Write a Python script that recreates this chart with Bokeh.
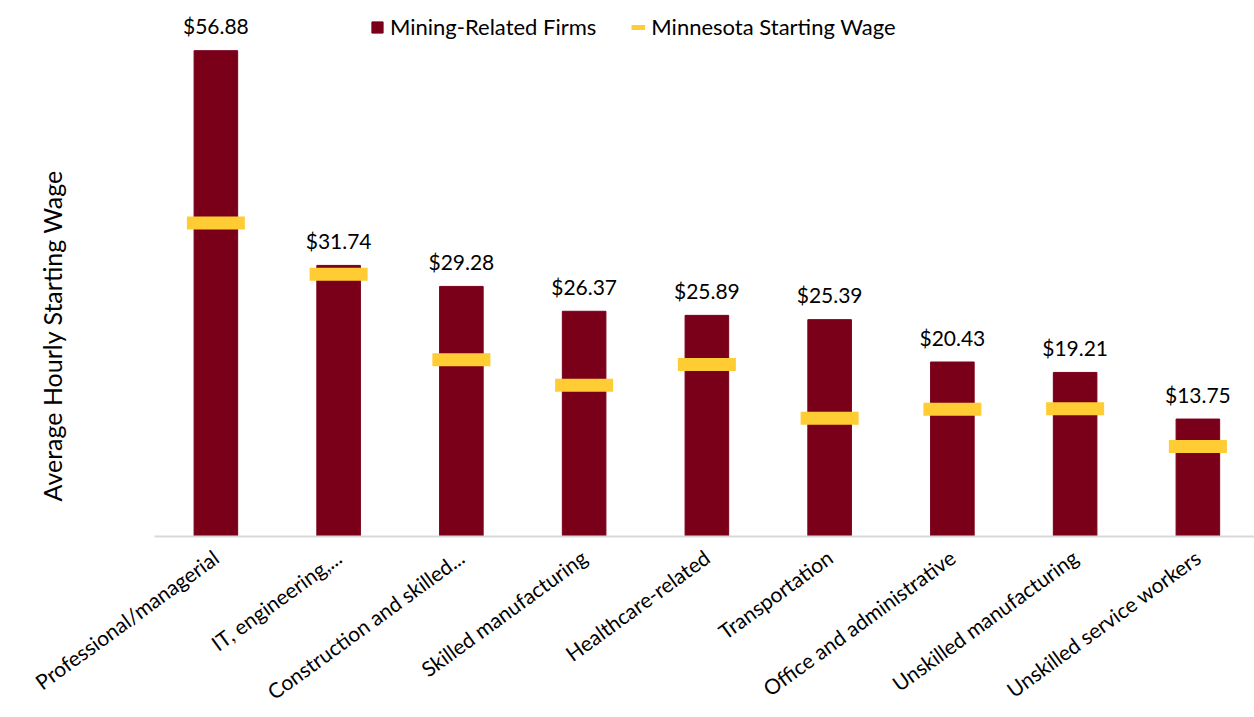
import math
from bokeh.plotting import figure
from bokeh.models import Range1d, FixedTicker, Legend, LegendItem, Title
from bokeh.core.properties import value
from bokeh.embed import file_html
from bokeh.resources import INLINE

categories = ["Professional/managerial", "IT, engineering,...", "Construction and skilled...",
              "Skilled manufacturing", "Healthcare-related", "Transportation",
              "Office and administrative", "Unskilled manufacturing", "Unskilled service workers"]
mining_wages = [56.88, 31.74, 29.28, 26.37, 25.89, 25.39, 20.43, 19.21, 13.75]
mn_wages = [36.70, 30.70, 20.70, 17.70, 20.15, 13.85, 14.90, 14.95, 10.55]
value_labels = [f"${v:.2f}" for v in mining_wages]

MAROON = "#7A0019"
GOLD = "#FFCC33"
FONT = "Lato"

xs = list(range(len(categories)))

W, H = 1254, 717
FRAME_L = 154
FRAME_H = 537
p = figure(width=W, height=H, output_backend="svg", toolbar_location=None,
           x_range=Range1d(-0.5, -0.5 + (W - FRAME_L) / 122.75),
           y_range=Range1d(0, FRAME_H / 8.557),
           min_border_left=FRAME_L, min_border_right=0, min_border_top=0,
           min_border_bottom=H - FRAME_H)
p.outline_line_color = None
p.grid.visible = False
p.background_fill_color = "white"

bars = p.vbar(x=xs, top=mining_wages, width=0.355, fill_color=MAROON, line_color=MAROON)
p.rect(x=xs, y=mn_wages, width=0.4725, height=13, height_units="screen",
       fill_color=GOLD, line_color=None)
p.text(x=xs, y=mining_wages, text=value_labels, text_align="center", text_baseline="alphabetic",
       y_offset=-25, text_font=value(FONT), text_font_size="21px", text_color="black")

dummy = p.line(x=xs, y=[float("nan")] * len(xs), line_color=GOLD, line_width=5)

p.yaxis.visible = False
xa = p.xaxis[0]
xa.ticker = FixedTicker(ticks=xs)
xa.major_label_overrides = {i: c for i, c in zip(xs, categories)}
xa.axis_line_color = "#D9D9D9"
xa.axis_line_width = 2
xa.major_tick_line_color = None
xa.minor_tick_line_color = None
xa.major_label_orientation = math.radians(36)
xa.major_label_text_font = FONT
xa.major_label_text_font_size = "21px"
xa.major_label_text_color = "black"
xa.major_label_standoff = 12

# spacer panel next to the frame, then the axis title further out
p.add_layout(Title(text=" ", standoff=73, text_font_size="10px"), "left")
p.add_layout(Title(text="Average Hourly Starting Wage", align="left", vertical_align="top",
                   offset=FRAME_H - 502, standoff=0,
                   text_font=FONT, text_font_size="25px", text_font_style="normal",
                   text_color="black"), "left")

legend = Legend(items=[LegendItem(label="Mining-Related Firms", renderers=[bars]),
                       LegendItem(label="Minnesota Starting Wage", renderers=[dummy])],
                orientation="horizontal", location=(216, FRAME_H - 41), glyph_width=14,
                glyph_height=14, label_standoff=6, spacing=35, padding=0, margin=0,
                border_line_color=None, background_fill_alpha=0, label_text_font=FONT,
                label_text_font_size="22px", label_text_color="black")
p.add_layout(legend, "center")

open("out.html", "w").write(file_html(p, INLINE))
